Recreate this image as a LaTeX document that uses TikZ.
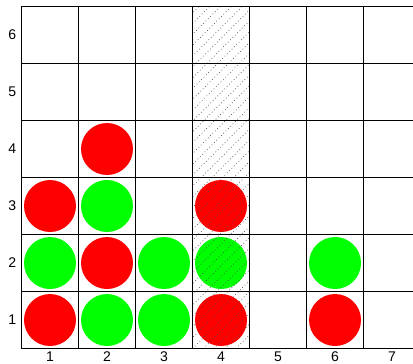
\documentclass[tikz,border=0pt]{standalone}
\usepackage{fontspec}
\setmainfont{Liberation Sans}

\begin{document}
\begin{tikzpicture}[x=1cm,y=1cm,font=\fontsize{7}{8}\selectfont]
\useasboundingbox (-0.377,-0.254) rectangle (6.868,6.114);
\clip (-0.377,-0.254) rectangle (6.868,6.114);
\foreach \i/\j/\clr in {1/1/red,1/2/green,1/3/red,2/1/green,2/2/red,2/3/green,2/4/red,3/1/green,3/2/green,4/1/red,4/2/green,4/3/red,6/1/red,6/2/green}{
\fill[\clr] (\i-.5,\j-.5) circle (.456);}
\begin{scope}
\clip (3,0) rectangle (4,6);
\foreach \k in {-32,...,6}
\draw[black!70,line width=.35pt,dash pattern=on .35pt off 1.3pt] (3+\k*.19,0)--++(6,6);
\end{scope}
\draw[gray,dotted] (3,0) rectangle (4,6);
\draw[line width=.5pt] (0,0) grid (7,6);
\foreach \n in {1,...,7} \node (col\n) at (\n-.5,-.15) {\n};
\foreach \n in {1,...,6} \node (row\n) at (-.16,\n-.5) {\n};
\end{tikzpicture}
\end{document}
